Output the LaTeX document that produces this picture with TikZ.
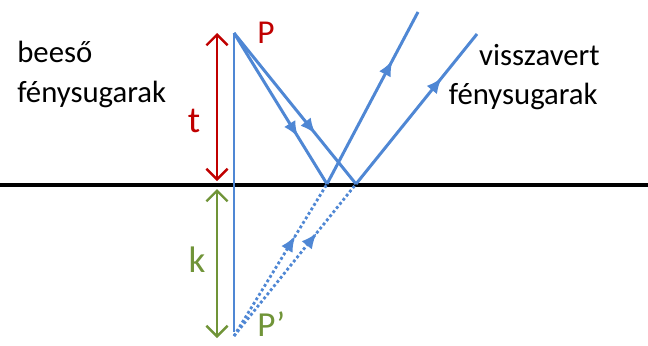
\documentclass[tikz,border=0pt]{standalone}
\usepackage{fontspec}
\setmainfont{Carlito}
\usetikzlibrary{arrows.meta,positioning,calc,decorations.markings}
\definecolor{raycol}{RGB}{79,135,212}
\definecolor{tcol}{RGB}{192,0,0}
\definecolor{kcol}{RGB}{112,148,56}
\begin{document}
\begin{tikzpicture}[x=0.02cm,y=-0.02cm,
  ray/.style={raycol,line width=1.7pt},
  midarrow/.style={postaction={decorate},decoration={markings,
      mark=at position #1 with {\pgfsetdash{}{0pt}\arrow{Latex[length=9pt,width=7.5pt]}}}},
  virtual/.style={raycol,line width=1.6pt,dash pattern=on 1.6pt off 1.4pt},
  measure/.style={line width=1.4pt,{Straight Barb[length=6pt,width=12pt]}-{Straight Barb[length=6pt,width=12pt]}},
  txt/.style={font=\fontsize{17.5}{23}\selectfont,inner sep=0pt},
  lbl/.style={font=\fontsize{21}{25}\selectfont,inner sep=0pt}]
\useasboundingbox (0,0) rectangle (648,345);
% points
\coordinate (P) at (234,33);
\coordinate (Pp) at (234,336);
\coordinate (R1) at (327,184);
\coordinate (R2) at (356,184);
\coordinate (E1) at (418,12);
\coordinate (E2) at (477,34);
% mirror
\coordinate (ML) at (0,185);
\coordinate (MR) at (648,185);
\draw[line width=2.3pt] (ML) -- (MR);
% normal through P
\coordinate (N) at (234,332);
\draw[raycol,line width=0.9pt] (P) -- (N);
% incident and reflected rays
\draw[ray,midarrow=0.69] (P) -- (R1);
\draw[ray,midarrow=0.67] (P) -- (R2);
\draw[ray,midarrow=0.72] (R1) -- (E1);
\draw[ray,midarrow=0.71] (R2) -- (E2);
% virtual rays
\draw[virtual,midarrow=0.66] (Pp) -- (R1);
\draw[virtual,midarrow=0.68] (Pp) -- (R2);
% distances
\coordinate (T1) at (217,33);
\coordinate (T2) at (217,181);
\coordinate (K1) at (217,189);
\coordinate (K2) at (217,338);
\draw[measure,tcol] (T1) -- (T2);
\draw[measure,kcol] (K1) -- (K2);
% labels
\node[lbl,font=\fontsize{19}{23}\selectfont,tcol,anchor=base west] (Plbl) at (257,43) {P};
\node[lbl,font=\fontsize{20}{24}\selectfont,kcol,anchor=base west] (Pplbl) at (257,336) {P’};
\node[lbl,tcol,anchor=base] (tlbl) at (194,132) {t};
\node[lbl,kcol,anchor=base] (klbl) at (197,272) {k};
\node[txt,anchor=base west] (incA) at (17,62) {beeső};
\node[txt,anchor=base west] (incB) at (17,102) {fénysugarak};
\node[txt,anchor=base east] (reflA) at (600,65) {visszavert};
\node[txt,anchor=base east] (reflB) at (598,104) {fénysugarak};
\end{tikzpicture}
\end{document}
